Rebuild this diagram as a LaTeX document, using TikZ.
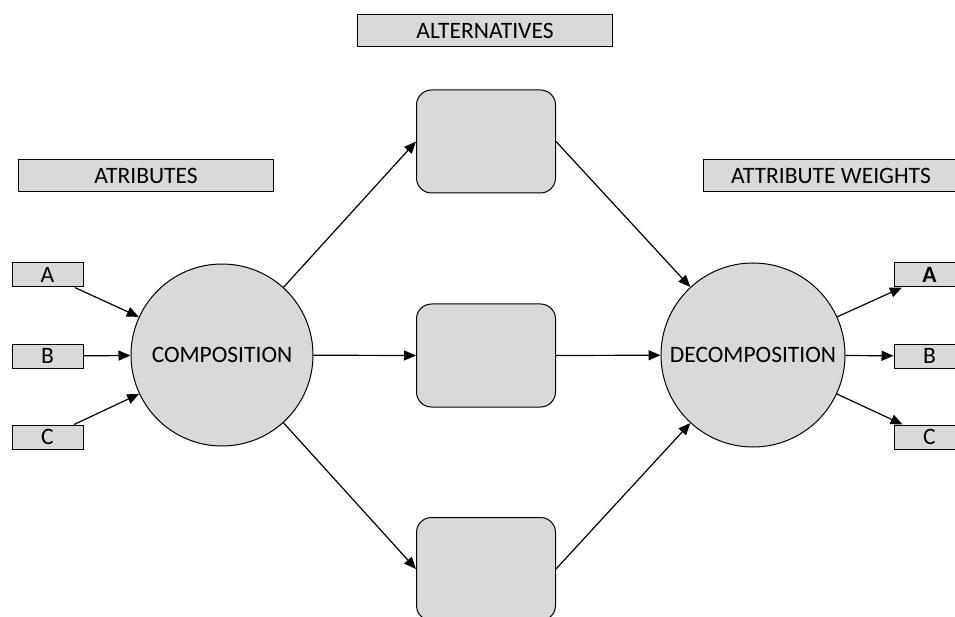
\documentclass[tikz,border=0pt]{standalone}
\usepackage{fontspec}
\setmainfont{Carlito}
\usetikzlibrary{arrows.meta}
\definecolor{boxgrey}{HTML}{D9D9D9}
\tikzset{
  txt/.style={font=\fontsize{23.5}{26}\selectfont},
  lbl/.style={txt, draw=black, fill=boxgrey, line width=1pt, minimum width=255pt, minimum height=32pt, inner sep=0pt},
  small/.style={txt, draw=black, fill=boxgrey, line width=1pt, minimum width=71pt, minimum height=24pt, inner sep=0pt},
  alt/.style={draw=black, fill=boxgrey, line width=1pt, rounded corners=15pt, minimum width=139pt, minimum height=103pt, inner sep=0pt},
  hub/.style={txt, circle, draw=black, fill=boxgrey, line width=1pt, inner sep=0pt},
  arr/.style={-{Triangle[length=12pt,width=10pt]}, line width=1.2pt}
}
\begin{document}
\begin{tikzpicture}[x=1pt,y=-1pt]
\useasboundingbox (0,0) rectangle (955,617);
\clip (0,0) rectangle (955,617);
% header labels
\node[lbl] (altlbl) at (485,31) {ALTERNATIVES};
\node[lbl] (attlbl) at (146,175.5) {ATRIBUTES};
\node[lbl] (wlbl) at (831,175.5) {ATTRIBUTE WEIGHTS};
% left attribute boxes
\node[small] (la) at (47.5,275) {A};
\node[small] (lb) at (47.5,356) {B};
\node[small] (lc) at (47.5,437) {C};
% right weight boxes
\node[small] (ra) at (929.5,275) {\textbf{A}};
\node[small] (rb) at (929.5,356) {B};
\node[small] (rc) at (929.5,437) {C};
% hubs
\node[hub, minimum size=182pt] (comp) at (222,355) {COMPOSITION};
\node[hub, minimum size=184pt] (decomp) at (753,355) {DECOMPOSITION};
% alternatives
\node[alt] (t1) at (486,141.5) {};
\node[alt] (t2) at (486,355.5) {};
\node[alt] (t3) at (486,569) {};
% connectors
\draw[arr] (la) -- (comp);
\draw[arr] (lb) -- (comp);
\draw[arr] (lc) -- (comp);
\draw[arr] (comp) -- (t1.west);
\draw[arr] (comp) -- (t2.west);
\draw[arr] (comp) -- (t3.west);
\draw[arr] (t1.east) -- (decomp);
\draw[arr] (t2.east) -- (decomp);
\draw[arr] (t3.east) -- (decomp);
\draw[arr] (decomp) -- (ra);
\draw[arr] (decomp) -- (rb);
\draw[arr] (decomp) -- (rc);
\end{tikzpicture}
\end{document}
